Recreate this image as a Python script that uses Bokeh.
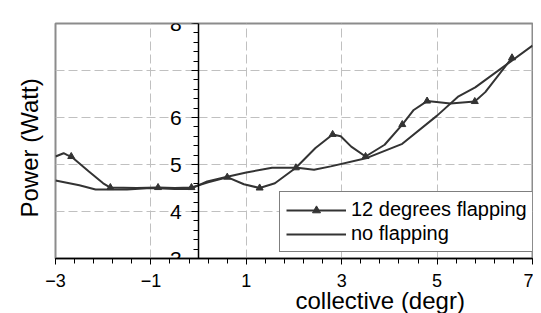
from bokeh.plotting import figure
from bokeh.models import Range1d, FixedTicker, Legend, LegendItem, Title
from bokeh.embed import file_html
from bokeh.resources import INLINE

# ---- data ----
x_ticks = [-3, -1, 1, 3, 5, 7]
x_minor = [round(-3 + 0.4 * i, 2) for i in range(26)]
y_ticks = [3, 4, 5, 6, 7, 8]
y_minor = [round(3 + 0.2 * i, 2) for i in range(26)]
y_tick_labels = {3: "3", 4: "4", 5: "5", 6: "6", 7: "", 8: "8"}

flap_label = "12 degrees flapping"
flap_x = [-3.0, -2.83, -2.75, -2.67, -2.3, -2.0, -1.85, -1.3, -0.85, -0.5, -0.15,
          0.2, 0.6, 0.95, 1.28, 1.6, 2.04, 2.45, 2.81, 2.98, 3.2, 3.5, 3.9, 4.27,
          4.51, 4.79, 5.28, 5.79, 6.01, 6.57]
flap_y = [5.17, 5.24, 5.2, 5.17, 4.85, 4.6, 4.51, 4.5, 4.51, 4.5, 4.51,
          4.62, 4.73, 4.58, 4.5, 4.6, 4.93, 5.35, 5.64, 5.6, 5.38, 5.17, 5.42, 5.85,
          6.16, 6.35, 6.3, 6.34, 6.54, 7.27]
flap_mx = [-2.67, -1.85, -0.85, -0.15, 0.6, 1.28, 2.04, 2.81, 3.5, 4.27, 4.79, 5.79, 6.57]
flap_my = [5.17, 4.51, 4.51, 4.51, 4.73, 4.5, 4.93, 5.64, 5.17, 5.85, 6.35, 6.34, 7.27]

noflap_label = "no flapping"
noflap_x = [-3.0, -2.5, -2.16, -1.5, -1.0, -0.5, -0.17, 0.18, 0.6, 1.0, 1.54, 2.07,
            2.42, 2.77, 3.53, 4.27, 5.0, 5.45, 5.8, 7.0]
noflap_y = [4.66, 4.56, 4.47, 4.47, 4.5, 4.48, 4.48, 4.64, 4.74, 4.83, 4.93, 4.93,
            4.89, 4.96, 5.14, 5.44, 6.04, 6.45, 6.64, 7.53]

x_title = "collective (degr)"
y_title = "Power (Watt)"

FONT = "Liberation Sans"
INK = "#333333"

p = figure(width=533, height=313, x_range=Range1d(-3, 7), y_range=Range1d(3, 8),
           output_backend="svg", toolbar_location=None,
           min_border_left=55, min_border_right=1, min_border_top=23, min_border_bottom=55)
p.background_fill_color = "white"
p.border_fill_color = "white"
p.outline_line_color = "#8c8c8c"
p.outline_line_width = 2

# x axis
xa = p.xaxis[0]
xa.ticker = FixedTicker(ticks=x_ticks, minor_ticks=x_minor)
xa.axis_line_color = "black"
xa.axis_line_width = 1.5
xa.major_tick_line_color = "black"
xa.minor_tick_line_color = "black"
xa.major_tick_in = 0
xa.major_tick_out = 6
xa.minor_tick_in = 0
xa.minor_tick_out = 5
xa.major_label_text_font = FONT
xa.major_label_text_font_size = "18px"
xa.major_label_text_color = "black"
xa.major_label_standoff = 9

# x title, shifted right of centre as in the reference
p.add_layout(Title(text=x_title, align="left", offset=240, standoff=-10,
                   text_font=FONT, text_font_size="24px", text_font_style="normal",
                   text_color="black"), "below")

# y axis, placed at x = 0
ya = p.yaxis[0]
ya.fixed_location = 0
ya.ticker = FixedTicker(ticks=y_ticks, minor_ticks=y_minor)
ya.major_label_overrides = y_tick_labels
ya.axis_line_color = "black"
ya.axis_line_width = 1.5
ya.major_tick_line_color = "black"
ya.minor_tick_line_color = "black"
ya.major_tick_in = 0
ya.major_tick_out = 7
ya.minor_tick_in = 0
ya.minor_tick_out = 5
ya.major_label_text_font = FONT
ya.major_label_text_font_size = "21px"
ya.major_label_text_color = "black"
ya.major_label_standoff = 10

# y title on the left edge
p.add_layout(Title(text=y_title, align="left", offset=41, standoff=26,
                   text_font=FONT, text_font_size="24px", text_font_style="normal",
                   text_color="black"), "left")

for g in (p.xgrid[0], p.ygrid[0]):
    g.grid_line_color = "#c0c0c0"
    g.grid_line_dash = "9 4"
    g.grid_line_width = 1

r_flap = p.line(flap_x, flap_y, line_color=INK, line_width=2)
r_flap_m = p.scatter(flap_mx, flap_my, marker="triangle", size=7,
                     fill_color=INK, line_color=INK)
r_no = p.line(noflap_x, noflap_y, line_color=INK, line_width=2)

legend = Legend(items=[LegendItem(label=flap_label, renderers=[r_flap, r_flap_m]),
                       LegendItem(label=noflap_label, renderers=[r_no])],
                location=(224, 6), orientation="vertical")
legend.label_text_font = FONT
legend.label_text_font_size = "20px"
legend.label_text_color = "black"
legend.border_line_color = "black"
legend.border_line_width = 1
legend.background_fill_color = "white"
legend.background_fill_alpha = 1
legend.padding = 6
legend.spacing = 1
legend.glyph_width = 60
legend.glyph_height = 20
legend.label_height = 20
legend.label_standoff = 5
legend.margin = 0
p.add_layout(legend, "center")

open("out.html", "w").write(file_html(p, INLINE))
